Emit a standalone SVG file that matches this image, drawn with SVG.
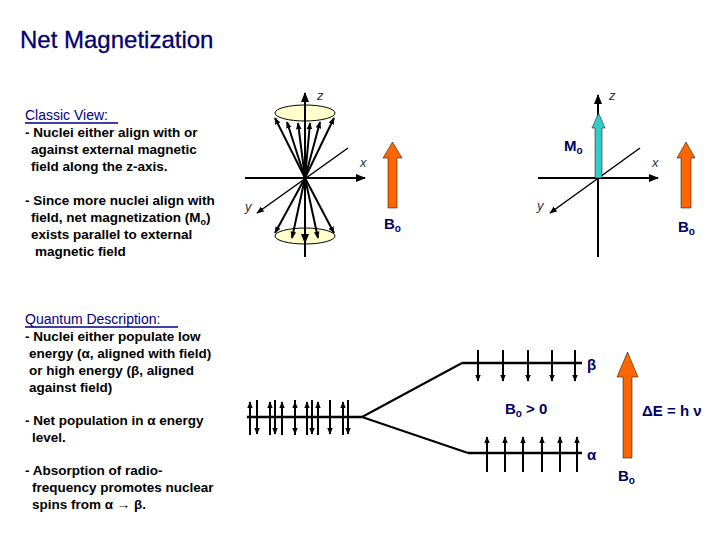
<svg xmlns="http://www.w3.org/2000/svg" width="720" height="540" viewBox="0 0 720 540">
<defs>
<marker id="ah" viewBox="0 0 10 10" refX="9" refY="5" markerWidth="5" markerHeight="5" orient="auto"><path d="M0,1 L10,5 L0,9 z" fill="#000"/></marker>
<marker id="as" viewBox="0 0 10 10" refX="9" refY="5" markerWidth="3.5" markerHeight="3.5" orient="auto"><path d="M0,1 L10,5 L0,9 z" fill="#000"/></marker>
</defs>
<style>
.t{font-family:"Liberation Sans",Arial,sans-serif;font-size:13.5px;font-weight:bold;fill:#000}
.h{font-family:"Liberation Sans",Arial,sans-serif;font-size:14px;fill:#000080}
.ax{stroke:#000;stroke-width:2;fill:none}
.ax1{stroke:#000;stroke-width:1.5;fill:none}
.lab{font-family:"Liberation Sans",Arial,sans-serif;font-size:13px;font-style:italic;fill:#333}
.b{font-family:"Liberation Sans",Arial,sans-serif;font-size:15px;font-weight:bold;fill:#000060}
.or{fill:#ff6600;stroke:#000;stroke-width:0.5}
.lv{stroke:#000;stroke-width:2.5}
.sp{stroke:#000;stroke-width:2;marker-end:url(#as)}
</style>
<rect width="720" height="540" fill="#fff"/>
<text x="20" y="48" font-family="Liberation Sans,Arial,sans-serif" font-size="24" fill="#000080" stroke="#000040" stroke-width="0.3">Net Magnetization</text>

<g id="classic-text">
<text x="25" y="120" class="h">Classic View:</text>
<line x1="25" y1="123" x2="118" y2="123" stroke="#000080" stroke-width="1.5"/>
<text class="t"><tspan x="25" y="137">- Nuclei either align with or</tspan><tspan x="31" y="154">against external magnetic</tspan><tspan x="31" y="171">field along the z-axis.</tspan></text>
<text class="t"><tspan x="25" y="205">- Since more nuclei align with</tspan><tspan x="31" y="222">field, net magnetization (M<tspan font-size="9" dy="3">o</tspan><tspan dy="-3">)</tspan></tspan><tspan x="31" y="239">exists parallel to external</tspan><tspan x="35" y="256">magnetic field</tspan></text>
</g>

<g id="quantum-text">
<text x="25" y="324" class="h">Quantum Description:</text>
<line x1="25" y1="327" x2="178" y2="327" stroke="#000080" stroke-width="1.5"/>
<text class="t"><tspan x="25" y="341">- Nuclei either populate low</tspan><tspan x="29" y="358">energy (α, aligned with field)</tspan><tspan x="29" y="375">or high energy (β, aligned</tspan><tspan x="29" y="392">against field)</tspan></text>
<text class="t"><tspan x="25" y="425">- Net population in α energy</tspan><tspan x="32" y="442">level.</tspan></text>
<text class="t"><tspan x="25" y="475">- Absorption of radio-</tspan><tspan x="32" y="492">frequency promotes nuclear</tspan><tspan x="32" y="509">spins from α → β.</tspan></text>
</g>

<g id="cone-view">
<ellipse cx="305" cy="113" rx="30" ry="8" fill="#ffffcc" stroke="#000" stroke-width="1"/>
<ellipse cx="305" cy="236" rx="30" ry="8" fill="#ffffcc" stroke="#000" stroke-width="1"/>
<g class="sp" fill="none">
<line x1="305" y1="178" x2="275" y2="118"/><line x1="305" y1="178" x2="287" y2="122"/><line x1="305" y1="178" x2="298" y2="123"/><line x1="305" y1="178" x2="310" y2="123"/><line x1="305" y1="178" x2="320" y2="122"/><line x1="305" y1="178" x2="334" y2="118"/>
<line x1="305" y1="178" x2="275" y2="233"/><line x1="305" y1="178" x2="292" y2="238"/><line x1="305" y1="178" x2="318" y2="238"/><line x1="305" y1="178" x2="334" y2="233"/>
</g>
<line class="ax" x1="305" y1="257" x2="305" y2="93" marker-end="url(#ah)"/>
<line class="ax" x1="245" y1="178" x2="365" y2="178" marker-end="url(#ah)"/>
<line class="ax1" x1="348" y1="148" x2="257" y2="213" marker-end="url(#ah)"/>
<line class="ax" x1="305" y1="178" x2="305" y2="243" marker-end="url(#ah)"/>
<text x="317" y="100" class="lab">z</text>
<text x="360" y="167" class="lab">x</text>
<text x="245" y="211" class="lab">y</text>
<path class="or" d="M388,208 V158 H383 L392.5,142 L402,158 H397 V208 Z"/>
<text x="384" y="229" class="b">B<tspan font-size="10" dy="3">o</tspan></text>
</g>

<g id="net-view">
<line class="ax" x1="598" y1="257" x2="598" y2="95" marker-end="url(#ah)"/>
<line class="ax" x1="538" y1="178" x2="658" y2="178" marker-end="url(#ah)"/>
<line class="ax1" x1="640" y1="148" x2="550" y2="213" marker-end="url(#ah)"/>
<path d="M595,178 V128 H592 L598.5,113 L605,128 H602 V178 Z" fill="#33cccc" stroke="#000" stroke-width="0.5"/>
<text x="609" y="100" class="lab">z</text>
<text x="652" y="167" class="lab">x</text>
<text x="537" y="210" class="lab">y</text>
<text x="564" y="151" class="b">M<tspan font-size="10" dy="3">o</tspan></text>
<path class="or" d="M681,208 V158 H677 L686,142 L695,158 H691 V208 Z"/>
<text x="678" y="232" class="b">B<tspan font-size="10" dy="3">o</tspan></text>
</g>

<g id="energy-levels">
<line class="lv" x1="247" y1="417" x2="362" y2="417"/>
<line class="lv" x1="462" y1="363" x2="582" y2="363"/>
<line class="lv" x1="468" y1="453" x2="582" y2="453"/>
<g class="sp">
<line x1="250" y1="435" x2="250" y2="402"/><line x1="270" y1="435" x2="270" y2="402"/><line x1="282" y1="435" x2="282" y2="402"/><line x1="295" y1="435" x2="295" y2="402"/><line x1="307" y1="435" x2="307" y2="402"/><line x1="318" y1="435" x2="318" y2="402"/><line x1="343" y1="435" x2="343" y2="402"/>
<line x1="257" y1="400" x2="257" y2="434"/><line x1="275" y1="400" x2="275" y2="434"/><line x1="295" y1="400" x2="295" y2="434"/><line x1="312" y1="400" x2="312" y2="434"/><line x1="330" y1="400" x2="330" y2="434"/><line x1="348" y1="400" x2="348" y2="434"/>
<line x1="478" y1="350" x2="478" y2="381"/><line x1="503" y1="350" x2="503" y2="381"/><line x1="528" y1="350" x2="528" y2="381"/><line x1="552" y1="350" x2="552" y2="381"/><line x1="575" y1="350" x2="575" y2="381"/>
<line x1="487" y1="472" x2="487" y2="437"/><line x1="505" y1="472" x2="505" y2="437"/><line x1="523" y1="472" x2="523" y2="437"/><line x1="542" y1="472" x2="542" y2="437"/><line x1="560" y1="472" x2="560" y2="437"/><line x1="577" y1="472" x2="577" y2="437"/>
</g>
<text x="587" y="370" class="b">β</text>
<text x="587" y="460" class="b">α</text>
<text x="505" y="414" class="b">B<tspan font-size="10" dy="3">o</tspan><tspan dy="-3"> &gt; 0</tspan></text>
</g>

<g id="connectors">
<line x1="362" y1="417" x2="462" y2="363" stroke="#000" stroke-width="2"/>
<line x1="362" y1="417" x2="468" y2="453" stroke="#000" stroke-width="2"/>
</g>

<g id="energy-arrow">
<path class="or" d="M623,458 V377 H617 L627.5,352 L638,377 H632 V458 Z"/>
<text x="642" y="416" class="b">ΔE = h ν</text>
<text x="618" y="481" class="b">B<tspan font-size="10" dy="3">o</tspan></text>
</g>
</svg>
